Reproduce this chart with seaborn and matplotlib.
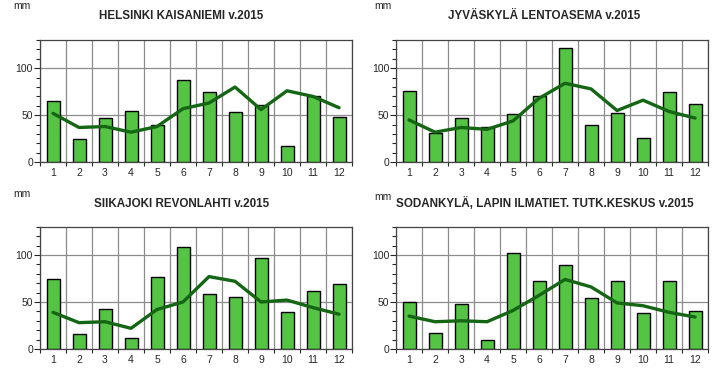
import matplotlib
matplotlib.use("Agg")
import matplotlib.pyplot as plt
import seaborn as sns
from matplotlib.ticker import MultipleLocator

sns.set_style("white")
plt.rcParams['font.family'] = ['Liberation Sans', 'DejaVu Sans']

months = list(range(1, 13))

# Kuukausisademäärät 2015 (pylväät) ja vertailukauden keskiarvot (viiva)
helsinki_2015 = [65, 25, 47, 55, 40, 88, 75, 53, 61, 17, 70, 48]
helsinki_avg = [52, 37, 38, 32, 38, 57, 63, 80, 56, 76, 70, 58]

jyvaskyla_2015 = [76, 31, 47, 38, 51, 70, 122, 40, 52, 26, 75, 62]
jyvaskyla_avg = [45, 32, 37, 35, 44, 68, 84, 78, 55, 66, 54, 47]

siikajoki_2015 = [74, 16, 42, 12, 77, 108, 58, 55, 97, 39, 62, 69]
siikajoki_avg = [39, 28, 29, 22, 42, 50, 77, 72, 50, 52, 44, 37]

sodankyla_2015 = [50, 17, 48, 10, 102, 72, 89, 54, 72, 38, 72, 40]
sodankyla_avg = [35, 29, 30, 29, 41, 57, 74, 66, 49, 46, 39, 34]

titles = ["HELSINKI KAISANIEMI v.2015",
          "JYVÄSKYLÄ LENTOASEMA v.2015",
          "SIIKAJOKI REVONLAHTI v.2015",
          "SODANKYLÄ, LAPIN ILMATIET. TUTK.KESKUS v.2015"]
bars = [helsinki_2015, jyvaskyla_2015, siikajoki_2015, sodankyla_2015]
lines = [helsinki_avg, jyvaskyla_avg, siikajoki_avg, sodankyla_avg]

fig = plt.figure(figsize=(7.26, 3.76), dpi=100)

# paneelien paikat (vasen, ala)
positions = [(0.0551, 0.5684), (0.5455, 0.5684), (0.0551, 0.0718), (0.5455, 0.0718)]
w, h = 0.4298, 0.3252

for i in range(4):
    left, bottom = positions[i]
    ax = fig.add_axes([left, bottom, w, h])
    sns.barplot(x=months, y=bars[i], native_scale=True, width=0.5,
                color="#55c444", edgecolor="black", linewidth=1.0,
                saturation=1, ax=ax, zorder=3)
    sns.lineplot(x=months, y=lines[i], color="#146614", linewidth=2.4,
                 ax=ax, zorder=4)
    ax.set_xlim(0.5, 12.5)
    ax.set_ylim(0, 130)
    ax.set_xticks(months)
    ax.set_xticklabels([str(m) for m in months])
    ax.xaxis.set_minor_locator(MultipleLocator(1, offset=0.5))
    ax.set_yticks([0, 50, 100])
    ax.yaxis.set_minor_locator(MultipleLocator(10))
    ax.tick_params(axis="x", which="major", length=0, labelsize=7.5, pad=4)
    ax.tick_params(axis="x", which="minor", length=3, width=0.8, bottom=True)
    ax.tick_params(axis="y", which="major", length=4, width=0.8, left=True, labelsize=7.5, pad=1)
    ax.tick_params(axis="y", which="minor", length=3, width=0.8, left=True)
    ax.grid(True, axis="x", which="minor", color="#8c8c8c", linewidth=0.9, zorder=0)
    ax.grid(True, axis="y", which="major", color="#8c8c8c", linewidth=0.9, zorder=0)
    ax.grid(False, axis="x", which="major")
    ax.set_axisbelow(True)
    for s in ax.spines.values():
        s.set_color("#444444")
        s.set_linewidth(0.9)
    ax.set_xlabel("")
    ax.set_ylabel("")

    col = i % 2
    row = i // 2
    fig.text(0.25 + 0.5 * col, 0.958 - 0.5 * row, titles[i], ha="center", va="center",
             fontsize=8.4, fontweight="bold")
    fig.text(0.018 + 0.498 * col, 0.983 - 0.5 * row - (0.006 if i == 3 else 0), "mm",
             ha="left", va="center", fontsize=7.5)

fig.savefig("out.png", dpi=100)
